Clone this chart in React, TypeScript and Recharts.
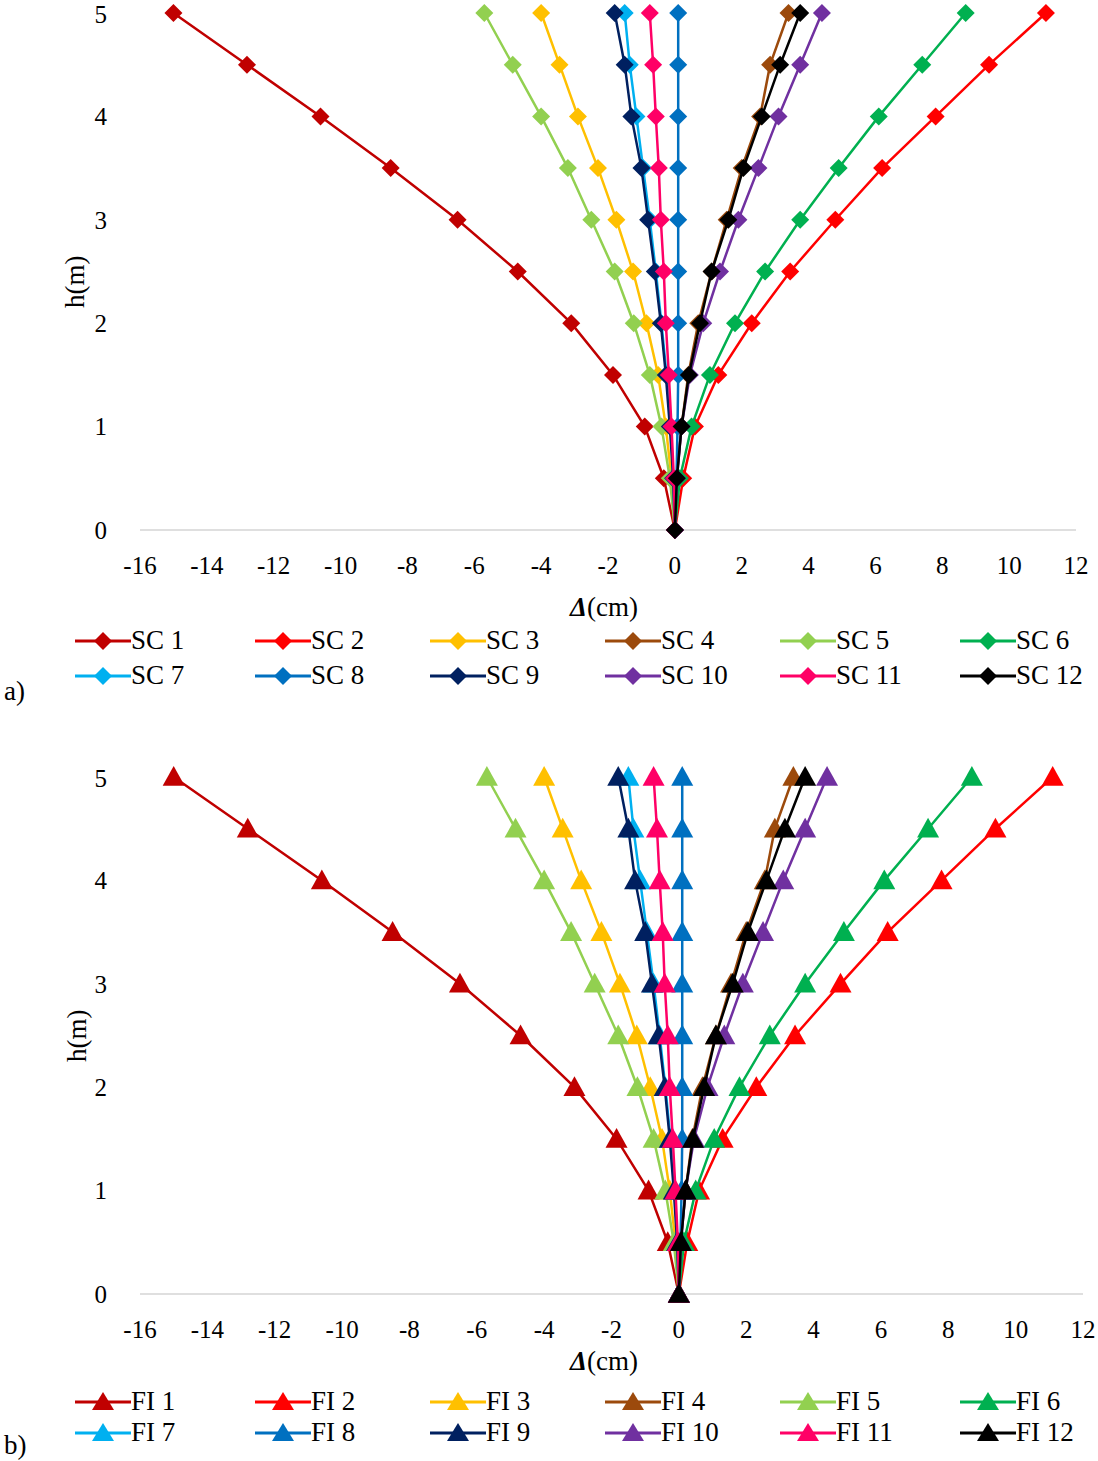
import React from 'react';
import { ScatterChart, Scatter, XAxis, YAxis } from 'recharts';

const heights = [0, 0.5, 1, 1.5, 2, 2.5, 3, 3.5, 4, 4.5, 5];
const names = ['1','2','3','4','5','6','7','8','9','10','11','12'];
const colors = ['#C00000','#FF0000','#FFC000','#9C4A0C','#92D050','#00B050','#00B0F0','#0070C0','#002060','#7030A0','#FF0066','#000000'];
const xTicks = [-16,-14,-12,-10,-8,-6,-4,-2,0,2,4,6,8,10,12];
const yTicks = [0,1,2,3,4,5];

// displacement (cm) per height, from h=0 to h=5
const s1 = [0,-0.33,-0.9,-1.85,-3.1,-4.7,-6.5,-8.5,-10.6,-12.8,-15.0];
const s2 = [0,0.25,0.6,1.3,2.3,3.45,4.8,6.2,7.8,9.4,11.1];
const s3 = [0,-0.1,-0.27,-0.5,-0.85,-1.25,-1.75,-2.3,-2.9,-3.45,-4.0];
const s4 = [0,0.05,0.2,0.4,0.7,1.1,1.55,2.0,2.55,2.85,3.4];
const s5 = [0,-0.15,-0.4,-0.75,-1.23,-1.8,-2.5,-3.2,-4.0,-4.85,-5.7];
const s6 = [0,0.15,0.5,1.05,1.8,2.7,3.75,4.9,6.1,7.4,8.7];
const s7 = [0,-0.05,-0.12,-0.25,-0.4,-0.57,-0.75,-0.95,-1.15,-1.35,-1.5];
const s8 = [0,0.05,0.08,0.1,0.1,0.1,0.1,0.1,0.1,0.1,0.1];
const s9 = [0,-0.05,-0.15,-0.27,-0.42,-0.6,-0.8,-1.0,-1.3,-1.5,-1.8];
const s10 = [0,0.06,0.2,0.45,0.85,1.35,1.9,2.5,3.1,3.75,4.4];
const s11 = [0,-0.03,-0.1,-0.18,-0.27,-0.33,-0.42,-0.48,-0.57,-0.65,-0.75];
const s12 = [0,0.06,0.2,0.42,0.75,1.1,1.6,2.05,2.6,3.15,3.75];

const scSeries = [s1,s2,s3,s4,s5,s6,s7,s8,s9,s10,s11,s12];
const fiSeries = [s1,s2,s3,s4,s5,s6,s7,s8,s9,s10,s11,s12];

const serif = 'Liberation Serif, Times New Roman, DejaVu Serif, serif';

const Diamond = (color: string) => (p: any) => {
  const { cx, cy } = p; const r = 9;
  return <path d={`M${cx},${cy - r}L${cx + r},${cy}L${cx},${cy + r}L${cx - r},${cy}Z`} fill={color} />;
};
const Tri = (color: string) => (p: any) => {
  const { cx, cy } = p; const r = 11;
  return <path d={`M${cx},${cy - r}L${cx + r},${cy + r * 0.8}L${cx - r},${cy + r * 0.8}Z`} fill={color} />;
};

function Chart({ series, tri, right }: { series: number[][]; tri: boolean; right: number }) {
  return (
    <ScatterChart width={1098} height={600} margin={{ top: 13, right, bottom: 40, left: 80 }}>
      <XAxis type="number" dataKey="x" domain={[-16, 12]} ticks={xTicks} height={30}
        axisLine={{ stroke: '#BFBFBF' }} tickLine={false} interval={0} tickMargin={20}
        tick={{ fontSize: 25, fill: '#000', fontFamily: serif }} />
      <YAxis type="number" dataKey="h" domain={[0, 5]} ticks={yTicks} width={60}
        axisLine={false} tickLine={false} tickMargin={27}
        tick={{ fontSize: 25, fill: '#000', fontFamily: serif }} />
      {series.map((s, i) => (
        <Scatter key={i} data={s.map((x, j) => ({ x, h: heights[j] }))} line={{ stroke: colors[i], strokeWidth: 2.5 }}
          lineType="joint" shape={tri ? Tri(colors[i]) : Diamond(colors[i])} isAnimationActive={false} />
      ))}
    </ScatterChart>
  );
}

function Legend({ prefix, tri, top }: { prefix: string; tri: boolean; top: number }) {
  const cols = [75, 255, 430, 605, 780, 960];
  return (
    <>
      {names.map((n, i) => {
        const c = colors[i];
        const left = cols[i % 6];
        const t = top + Math.floor(i / 6) * (tri ? 31 : 35);
        return (
          <div key={i} style={{ position: 'absolute', left, top: t - 16, display: 'flex', alignItems: 'center', fontFamily: serif, fontSize: 27 }}>
            <svg width={56} height={24}>
              <line x1={0} y1={12} x2={56} y2={12} stroke={c} strokeWidth={3} />
              {tri ? <path d="M28,2L39,20L17,20Z" fill={c} /> : <path d="M28,3L37,12L28,21L19,12Z" fill={c} />}
            </svg>
            <span>{prefix} {n}</span>
          </div>
        );
      })}
    </>
  );
}

const Title = ({ top, left }: { top: number; left: number }) => (
  <div style={{ position: 'absolute', top, left, fontFamily: serif, fontSize: 27 }}>
    <b><i>Δ</i></b>(cm)
  </div>
);
const HLabel = ({ top, left }: { top: number; left: number }) => (
  <div style={{ position: 'absolute', top, left, fontFamily: serif, fontSize: 27, transform: 'rotate(-90deg)', transformOrigin: 'left top' }}>h(m)</div>
);

export default function App() {
  return (
    <div style={{ position: 'absolute', left: 0, top: 0, width: 1098, height: 1461, background: '#fff' }}>
      <div style={{ position: 'absolute', left: 0, top: 0 }}>
        <Chart series={scSeries} tri={false} right={22} />
      </div>
      <HLabel top={308} left={60} />
      <Title top={592} left={570} />
      <Legend prefix="SC" tri={false} top={641} />
      <div style={{ position: 'absolute', left: 4, top: 676, fontFamily: serif, fontSize: 27 }}>a)</div>

      <div style={{ position: 'absolute', left: 0, top: 764 }}>
        <Chart series={fiSeries} tri={true} right={15} />
      </div>
      <HLabel top={1062} left={62} />
      <Title top={1346} left={570} />
      <Legend prefix="FI" tri={true} top={1402} />
      <div style={{ position: 'absolute', left: 4, top: 1430, fontFamily: serif, fontSize: 27 }}>b)</div>
    </div>
  );
}
